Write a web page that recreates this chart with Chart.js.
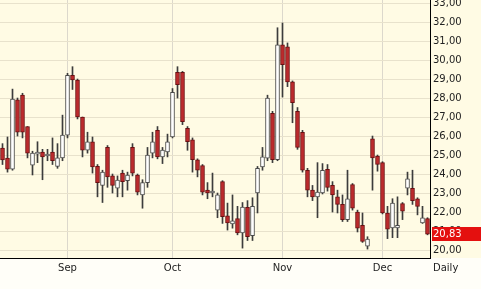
<!DOCTYPE html>
<html><head><meta charset="utf-8">
<script src="https://cdn.jsdelivr.net/npm/chart.js@4"></script>
<style>html,body{margin:0;padding:0;background:#fffef6;}canvas{display:block}</style>
</head><body>
<canvas id="c" width="481" height="289"></canvas>
<script>
const openP  = [25.37,24.84,24.26,27.9,28.15,26.5,24.47,25.05,25.15,24.95,25.15,24.4,24.85,26.05,29.2,28.95,27.0,25.26,25.7,24.4,23.4,25.4,23.9,23.26,24.05,23.65,25.4,23.95,22.9,23.55,25.1,26.3,24.9,25.16,25.95,29.35,29.35,26.4,25.8,24.75,24.45,23.15,23.0,22.1,23.6,21.8,21.37,21.65,20.9,22.25,20.75,23.0,24.37,24.84,27.2,24.75,30.8,30.7,28.85,27.3,26.2,24.2,23.15,22.8,23.0,24.25,23.4,22.8,22.4,21.6,23.45,22.0,21.3,20.2,25.85,24.95,24.6,21.95,21.16,21.16,22.45,23.26,23.25,22.7,21.42,21.65];
const highP  = [25.6,25.95,28.47,28.0,28.25,26.5,25.2,25.7,25.3,25.3,25.9,25.6,27.1,29.3,29.65,29.0,27.0,26.2,25.95,24.5,24.2,25.5,24.0,23.9,24.2,24.1,25.6,24.0,23.7,25.4,26.2,26.5,25.4,26.1,28.5,29.65,29.4,26.5,25.9,24.8,24.5,23.55,24.05,23.0,23.65,22.47,22.9,22.3,22.5,22.6,22.75,24.4,25.4,28.15,27.3,31.7,31.95,30.9,28.9,27.5,26.3,24.3,23.4,24.6,24.55,24.5,23.6,23.15,22.9,24.2,23.5,22.1,21.95,20.7,26.0,25.0,24.65,22.3,22.7,22.8,22.5,24.1,24.2,22.75,22.3,21.7];
const lowP   = [24.5,24.1,24.2,26.0,25.9,24.85,23.95,24.6,23.7,24.7,24.5,24.3,24.7,25.9,28.45,26.9,24.9,25.1,24.05,22.8,22.5,23.3,23.0,22.8,22.8,23.15,23.9,22.9,22.2,23.3,24.85,24.8,24.55,24.9,25.9,28.0,26.6,25.25,24.1,23.85,22.9,22.7,22.8,21.7,21.4,21.05,21.15,20.8,20.1,20.5,20.5,21.95,24.2,24.7,24.6,24.7,28.05,28.6,26.7,25.3,24.1,22.8,22.6,21.7,22.95,23.1,22.0,21.95,21.5,21.5,22.1,20.95,20.4,20.05,23.15,24.15,21.9,20.6,20.65,20.65,21.6,22.9,22.4,21.85,21.4,20.8];
const closeP = [24.74,24.26,27.95,26.2,26.2,25.1,25.1,25.15,24.9,25.0,24.7,24.85,26.05,29.2,28.95,27.0,25.26,25.7,24.37,23.55,24.1,23.85,23.4,23.68,23.6,23.95,24.05,23.05,23.55,25.0,25.7,24.9,25.26,25.7,28.3,28.7,26.75,25.7,24.75,24.2,23.05,23.0,23.02,22.9,21.75,21.42,21.53,20.9,22.26,20.7,22.3,24.3,24.9,28.0,24.75,30.8,29.75,28.85,27.75,25.4,24.2,23.15,22.8,23.05,24.2,23.3,22.9,22.4,21.6,22.7,22.2,21.15,20.45,20.58,24.85,24.5,21.95,21.1,22.47,21.3,22.05,23.75,22.6,22.3,21.7,20.83];
const monthStart = [13, 34, 56, 76];
const monthNames = ['Sep', 'Oct', 'Nov', 'Dec'];
const yTicks = [20,21,22,23,24,25,26,27,28,29,30,31,32,33];
const lastPrice = 20.83;
const periodLabel = 'Daily';

const categories = openP.map((_, i) => i);
const tickText = categories.map(i => { const k = monthStart.indexOf(i); return k >= 0 ? monthNames[k] : ''; });
const isUp = categories.map(i => closeP[i] >= openP[i]);
const FONT = {family: 'DejaVu Sans', size: 10};

const bgPlugin = {
  id: 'bg',
  beforeDraw(chart) {
    const {ctx, chartArea: a} = chart;
    ctx.save();
    ctx.fillStyle = '#fffef8';
    ctx.fillRect(0, 0, chart.width, chart.height);
    ctx.fillStyle = '#fffbe4';
    ctx.fillRect(0, 0, chart.width, a.bottom);
    ctx.restore();
  },
  afterDraw(chart) {
    const {ctx, chartArea: a} = chart;
    const y = chart.scales.y.getPixelForValue(lastPrice);
    ctx.save();
    ctx.fillStyle = '#e4100f';
    ctx.fillRect(a.right + 2, Math.round(y) - 7, chart.width - a.right - 2, 14);
    ctx.fillStyle = '#ffffff';
    ctx.font = '10px "DejaVu Sans"';
    ctx.textBaseline = 'middle';
    ctx.textAlign = 'left';
    ctx.fillText(lastPrice.toFixed(2).replace('.', ','), a.right + 3, Math.round(y));
    ctx.fillStyle = '#222';
    ctx.fillText(periodLabel, a.right + 3, a.bottom + 10);
    ctx.restore();
  }
};

new Chart(document.getElementById('c'), {
  type: 'bar',
  data: {
    labels: categories,
    datasets: [
      {
        label: 'body',
        data: categories.map(i => [openP[i], closeP[i]]),
        backgroundColor: isUp.map(u => u ? '#ffffff' : '#bc2a2c'),
        borderColor: isUp.map(u => u ? '#4a4a4a' : '#6a1012'),
        borderWidth: 1,
        borderSkipped: false,
        barThickness: 4,
        minBarLength: 2,
        grouped: false,
        order: 0
      },
      {
        label: 'wick',
        data: categories.map(i => [lowP[i], highP[i]]),
        backgroundColor: '#3c3c3c',
        borderWidth: 0,
        barThickness: 1,
        grouped: false,
        order: 1
      }
    ]
  },
  options: {
    responsive: false,
    animation: false,
    devicePixelRatio: 1,
    layout: {padding: 0},
    plugins: {legend: {display: false}, tooltip: {enabled: false}},
    scales: {
      x: {
        offset: true,
        grid: {
          offset: false,
          drawTicks: false,
          color: c => monthStart.includes(c.index) ? '#dcd8cc' : 'rgba(0,0,0,0)'
        },
        border: {display: true, color: '#000', width: 1},
        ticks: {autoSkip: false, maxRotation: 0, minRotation: 0, padding: 4, color: '#222', font: FONT,
          callback: (v, i) => tickText[i]},
        afterFit: s => { s.height = 31; s.paddingLeft = 0; s.paddingRight = 0; }
      },
      y: {
        position: 'right',
        min: 19.58,
        max: 33.16,
        afterBuildTicks: s => { s.ticks = yTicks.map(v => ({value: v})); },
        grid: {color: '#e8e2cc', drawTicks: false},
        border: {display: true, color: '#000', width: 1},
        ticks: {padding: 3, color: '#222', font: FONT,
          callback: v => Number(v).toFixed(2).replace('.', ',')},
        afterFit: s => { s.width = 51; s.paddingTop = 0; s.paddingBottom = 0; }
      }
    }
  },
  plugins: [bgPlugin]
});
</script>
</body></html>
